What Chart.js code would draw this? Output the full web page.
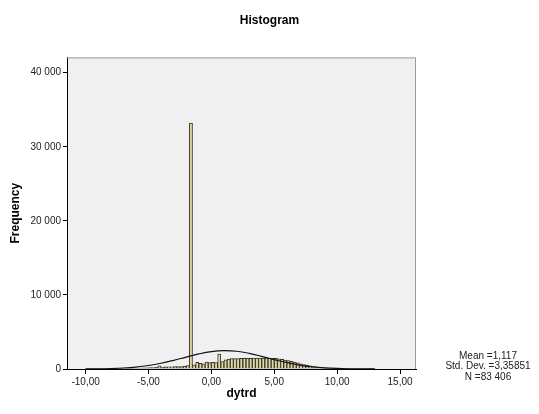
<!DOCTYPE html>
<html>
<head>
<meta charset="utf-8">
<script src="https://cdn.jsdelivr.net/npm/chart.js@4.4.0/dist/chart.umd.min.js"></script>
<style>
  html, body { margin: 0; padding: 0; background: #fff; }
  #wrap { width: 539px; height: 414px; }
</style>
</head>
<body>
<div id="wrap"><canvas id="histChart" width="539" height="414"></canvas></div>
<script>
// histogram bins (width 0.25), centres and counts
const binCenters = [
  -9.875, -9.625, -9.375, -9.125, -8.875, -8.625, -8.375, -8.125, -7.875, -7.625,
  -7.375, -7.125, -6.875, -6.625, -6.375, -6.125, -5.875, -5.625, -5.375, -5.125,
  -4.875, -4.625, -4.375, -4.125, -3.875, -3.625, -3.375, -3.125, -2.875, -2.625,
  -2.375, -2.125, -1.875, -1.625, -1.375, -1.125, -0.875, -0.625, -0.375, -0.125,
  0.125, 0.375, 0.625, 0.875, 1.125, 1.375, 1.625, 1.875, 2.125, 2.375,
  2.625, 2.875, 3.125, 3.375, 3.625, 3.875, 4.125, 4.375, 4.625, 4.875,
  5.125, 5.375, 5.625, 5.875, 6.125, 6.375, 6.625, 6.875, 7.125, 7.375,
  7.625, 7.875, 8.125, 8.375, 8.625, 8.875, 9.125, 9.375, 9.625, 9.875,
  10.125, 10.375, 10.625, 10.875, 11.125, 11.375, 11.625, 11.875, 12.125, 12.375,
  12.625, 12.875
];
const binCounts = [
  5, 5, 8, 10, 12, 15, 20, 25, 30, 40,
  50, 60, 70, 85, 95, 110, 120, 140, 150, 165,
  180, 200, 210, 420, 260, 280, 290, 300, 310, 320,
  330, 360, 450, 33200, 550, 900, 750, 700, 950, 850,
  900, 850, 2000, 1000, 1250, 1350, 1400, 1420, 1420, 1440,
  1440, 1450, 1450, 1460, 1460, 1470, 1470, 1460, 1450, 1440,
  1430, 1380, 1300, 1220, 1120, 1020, 920, 820, 700, 600,
  500, 420, 340, 280, 220, 170, 130, 100, 80, 60,
  45, 35, 28, 22, 18, 14, 10, 8, 6, 5,
  4, 3
];

// normal curve overlay
const curveX = [-10, -9, -8, -7, -6, -5, -4, -3, -2, -1, 0, 1, 2, 3, 4, 5, 6, 7, 8, 9, 10, 11, 12, 13];
const curveY = [10, 26, 62, 134, 262, 471, 776, 1169, 1610, 2031, 2344, 2476, 2393, 2117, 1714, 1270, 861, 535, 303, 158, 75, 33, 13, 5];

const xTicks = [-10, -5, 0, 5, 10, 15];
const yTicks = [0, 10000, 20000, 30000, 40000];
const statsLines = ['Mean =1,117', 'Std. Dev. =3,35851', 'N =83 406'];

const FONT = "'Liberation Sans', Arial, Helvetica, sans-serif";

const plotFrame = {
  id: 'plotFrame',
  beforeDraw(chart) {
    const { ctx, chartArea: a } = chart;
    ctx.save();
    ctx.fillStyle = '#f0f0f0';
    ctx.fillRect(a.left, a.top, a.right - a.left, a.bottom - a.top);
    ctx.restore();
  },
  afterDraw(chart) {
    const { ctx, chartArea: a } = chart;
    ctx.save();
    ctx.strokeStyle = '#9a9a9a';
    ctx.lineWidth = 1;
    ctx.beginPath();
    ctx.moveTo(a.left, a.top + 0.5);
    ctx.lineTo(a.right - 0.5, a.top + 0.5);
    ctx.lineTo(a.right - 0.5, a.bottom);
    ctx.stroke();

    ctx.fillStyle = '#222';
    ctx.font = '10px ' + FONT;
    ctx.textAlign = 'center';
    ctx.textBaseline = 'middle';
    statsLines.forEach((t, i) => ctx.fillText(t, 488, 356 + i * 10.5));
    ctx.restore();
  }
};

new Chart(document.getElementById('histChart'), {
  type: 'bar',
  data: {
    datasets: [
      {
        type: 'line',
        data: curveX.map((x, i) => ({ x: x, y: curveY[i] })),
        borderColor: '#111',
        borderWidth: 1.2,
        pointRadius: 0,
        tension: 0.4,
        fill: false,
        order: 0
      },
      {
        data: binCenters.map((x, i) => ({ x: x, y: binCounts[i] })),
        backgroundColor: '#e2dca0',
        borderColor: '#333',
        borderWidth: 1,
        barPercentage: 1,
        categoryPercentage: 1,
        order: 1
      }
    ]
  },
  options: {
    responsive: false,
    animation: false,
    layout: { padding: 0 },
    plugins: {
      legend: { display: false },
      tooltip: { enabled: false },
      title: {
        display: true,
        text: 'Histogram',
        color: '#000',
        font: { family: FONT, size: 12, weight: 'bold' },
        padding: { top: 13, bottom: 30 }
      }
    },
    scales: {
      x: {
        type: 'linear',
        min: -11.48,
        max: 16.27,
        offset: false,
        afterBuildTicks: s => { s.ticks = xTicks.map(v => ({ value: v })); },
        afterFit: s => { s.height = 45; },
        ticks: {
          color: '#222',
          padding: 2,
          maxRotation: 0,
          font: { family: FONT, size: 10 },
          callback: v => v.toFixed(2).replace('.', ',')
        },
        grid: { offset: false, drawOnChartArea: false, drawTicks: true, tickLength: 5, color: '#000' },
        border: { display: true, color: '#000' },
        title: {
          display: true,
          text: 'dytrd',
          color: '#000',
          font: { family: FONT, size: 12, weight: 'bold' },
          padding: { top: 0, bottom: 13 }
        }
      },
      y: {
        min: 0,
        max: 42070,
        afterBuildTicks: s => { s.ticks = yTicks.map(v => ({ value: v })); },
        afterFit: s => { s.width = 67; },
        ticks: {
          color: '#222',
          padding: 2,
          font: { family: FONT, size: 10 },
          callback: v => String(v).replace(/\B(?=(\d{3})+(?!\d))/g, ' ')
        },
        grid: { drawOnChartArea: false, drawTicks: true, tickLength: 4, color: '#000' },
        border: { display: true, color: '#000' },
        title: {
          display: true,
          text: 'Frequency',
          color: '#000',
          font: { family: FONT, size: 12, weight: 'bold' },
          padding: { top: 8, bottom: 0 }
        }
      },
      // empty right-hand box that reserves room for the statistics text
      side: {
        position: 'right',
        afterFit: s => { s.width = 123; },
        ticks: { display: false },
        grid: { display: false },
        border: { display: false }
      }
    }
  },
  plugins: [plotFrame]
});
</script>
</body>
</html>
